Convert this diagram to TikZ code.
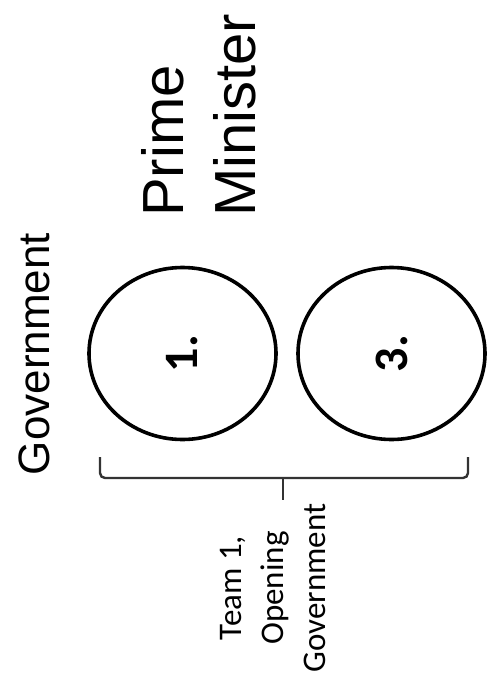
\documentclass[tikz,border=0pt]{standalone}
\usepackage{fontspec}
\setmainfont{Liberation Sans}
\newfontfamily\calibri{Carlito}
\usetikzlibrary{shapes.geometric}
\begin{document}
\begin{tikzpicture}[x=1pt,y=1pt,
  seat/.style={draw=black, line width=3.6pt, ellipse, minimum width=187pt, minimum height=172pt, inner sep=0pt, font=\calibri\bfseries\fontsize{48}{48}\selectfont},
  brace/.style={draw=black!80, line width=2.4pt, rounded corners=5pt},
  rotlabel/.style={rotate=90, inner sep=0pt}]
\useasboundingbox (0,0) rectangle (487,-690);
\node[seat] (pm) at (182.5,-353.5) {\rotatebox{90}{1.}};
\node[seat] (mg) at (391.5,-353.5) {\rotatebox{90}{3.}};
\node[rotlabel, anchor=base, font=\fontsize{44}{44}\selectfont] (gov) at (49,-354) {Government};
\node[rotlabel, anchor=south west, align=left, font=\fontsize{58}{72}\selectfont] (pmt) at (256,-217) {Prime\\Minister};
\coordinate (bl) at (100,-457);
\coordinate (br) at (468,-457);
\coordinate (bm) at (283,-478);
\coordinate (bt) at (283,-500);
\draw[brace] (bl) -- (100,-478) -- (468,-478) -- (br);
\draw[draw=black!80, line width=2.4pt] (bm) -- (bt);
\node[rotlabel, anchor=south, align=center, font=\calibri\fontsize{33}{42}\selectfont] (team) at (326,-588) {Team 1,\\Opening\\Government};
\end{tikzpicture}
\end{document}
